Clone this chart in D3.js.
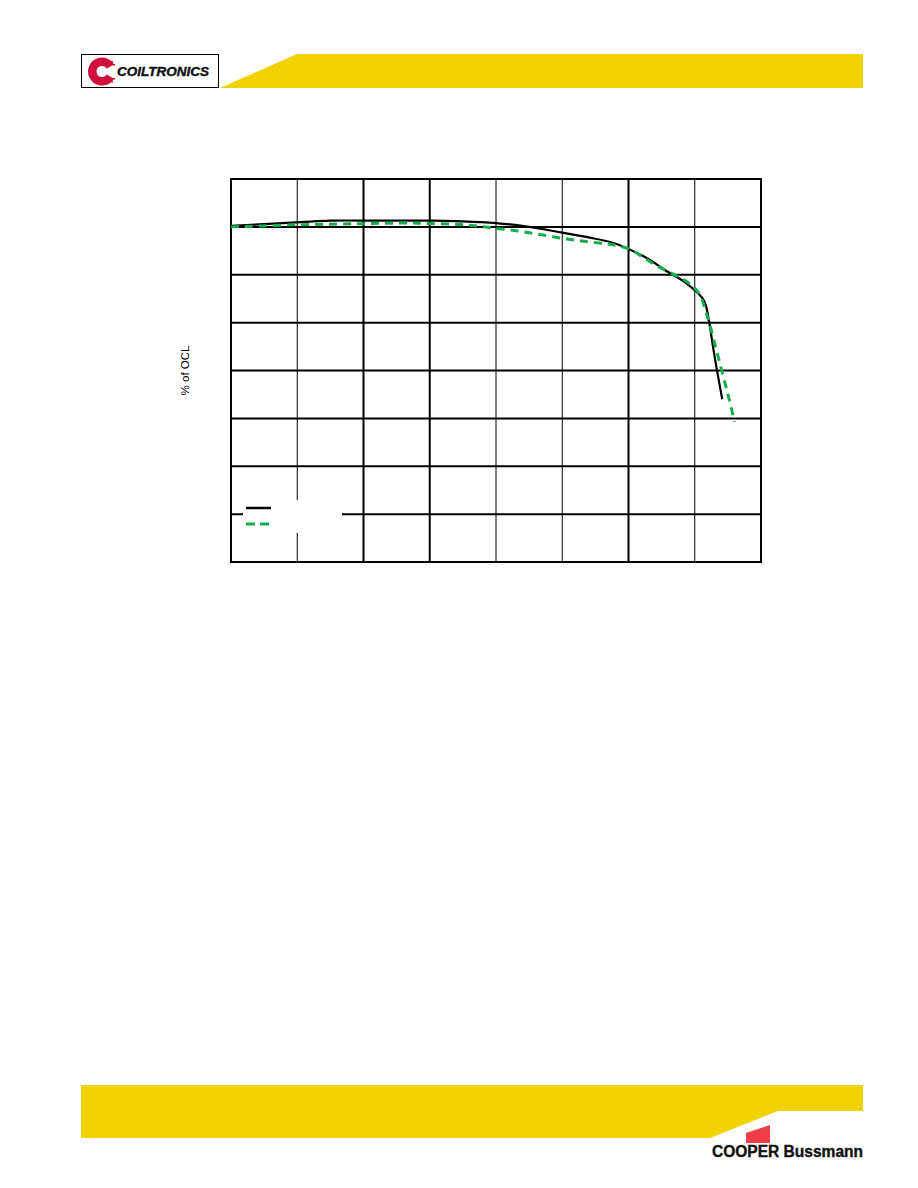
<!DOCTYPE html>
<html>
<head>
<meta charset="utf-8">
<script src="https://cdn.jsdelivr.net/npm/d3@7"></script>
<style>
html,body{margin:0;padding:0;background:#fff;}
svg{display:block;}
</style>
</head>
<body>
<svg id="c" width="918" height="1188"></svg>
<script>
// ---- data (x: % of rated current, y: % of OCL) ----
const xTicks = [0, 20, 40, 60, 80, 100, 120, 140, 160];
const yTicks = [30, 40, 50, 60, 70, 80, 90, 100, 110];
const thinXTicks = [20, 80, 100, 140];
const yLabel = "% of OCL";

const seriesA_x = [0, 21, 30, 45, 61, 75, 80, 89, 100, 108, 115, 120, 126, 131, 137.5, 142.3, 143.3, 144.4, 146, 148.3];
const seriesA_y = [100.2, 101.0, 101.3, 101.3, 101.3, 101.0, 100.8, 100.1, 98.8, 97.8, 96.75, 95.4, 93.3, 91.0, 88.2, 85.1, 83.7, 79.9, 72.9, 64.0];
const seriesB_x = [0, 21, 39, 53, 60, 71, 80, 89, 101.5, 109, 115, 120, 129, 137.5, 141.2, 143.8, 146, 148.1, 150.2, 152];
const seriesB_y = [100.0, 100.45, 100.66, 100.8, 100.7, 100.4, 99.7, 98.9, 97.45, 96.8, 96.3, 95.4, 91.7, 88.6, 86.15, 81.3, 75.7, 70.1, 64.5, 59.3];

const svg = d3.select("#c");

// ---- header ----
svg.append("polygon")
  .attr("points", "220,88 297,54 863,54 863,88")
  .attr("fill", "#f2d100");
svg.append("rect").attr("x", 81.5).attr("y", 54.5).attr("width", 137).attr("height", 33)
  .attr("fill", "#fff").attr("stroke", "#000").attr("stroke-width", 1);
// red C mark
const cg = svg.append("g");
cg.append("path")
  .attr("d", d3.arc()({innerRadius: 5.5, outerRadius: 14, startAngle: 0.55, endAngle: 2 * Math.PI - 0.55}))
  .attr("transform", "translate(102,71.5) rotate(90)")
  .attr("fill", "#d0103a");
[[106, 61, 7], [109, 64, 6], [109, 78, 6], [106, 81, 7]].forEach(d => {
  cg.append("rect").attr("x", d[0]).attr("y", d[1]).attr("width", d[2]).attr("height", 1.5).attr("fill", "#d0103a");
});
svg.append("text").attr("x", 117).attr("y", 76)
  .attr("font-family", "Liberation Sans, Arial, sans-serif").attr("font-weight", "bold").attr("font-style", "italic")
  .attr("font-size", 12.5).attr("textLength", 92).attr("lengthAdjust", "spacingAndGlyphs")
  .attr("fill", "#111").attr("stroke", "#111").attr("stroke-width", 0.4).text("COILTRONICS");

// ---- footer ----
svg.append("polygon")
  .attr("points", "81,1085 863,1085 863,1111 778,1111 710,1138 81,1138")
  .attr("fill", "#f2d100");
svg.append("polygon")
  .attr("points", "746,1133 770,1125 770,1143 746,1143")
  .attr("fill", "#ef3e4a");
const ft = svg.append("text").attr("x", 712).attr("y", 1157)
  .attr("font-family", "Liberation Sans, Arial, sans-serif").attr("font-size", 16)
  .attr("textLength", 151).attr("lengthAdjust", "spacingAndGlyphs").attr("fill", "#111")
  .attr("stroke", "#111").attr("stroke-width", 0.4);
ft.append("tspan").attr("font-weight", "bold").text("COOPER ");
ft.append("tspan").attr("font-weight", "bold").text("Bussmann");

// ---- chart ----
const x = d3.scaleLinear().domain([0, 160]).range([231, 761]);
const y = d3.scaleLinear().domain([30, 110]).range([562, 179]);

const grid = svg.append("g");
grid.selectAll("line.v").data(xTicks).join("line")
  .attr("x1", d => x(d)).attr("x2", d => x(d)).attr("y1", y(110) - 1).attr("y2", y(30) + 1)
  .attr("stroke", "#000").attr("stroke-width", d => thinXTicks.includes(d) ? 1 : 2);
grid.selectAll("line.h").data(yTicks).join("line")
  .attr("x1", x(0) - 1).attr("x2", x(160) + 1).attr("y1", d => y(d)).attr("y2", d => y(d))
  .attr("stroke", "#000").attr("stroke-width", 2);

// legend background
const lg = svg.append("g");
lg.append("rect").attr("x", 243).attr("y", 500).attr("width", 99).attr("height", 33).attr("fill", "#fff");
lg.append("line").attr("x1", 246).attr("x2", 271).attr("y1", 508).attr("y2", 508)
  .attr("stroke", "#000").attr("stroke-width", 2.5);
lg.append("line").attr("x1", 246).attr("x2", 270).attr("y1", 524).attr("y2", 524)
  .attr("stroke", "#14ad50").attr("stroke-width", 3).attr("stroke-dasharray", "9,5");

svg.append("path")
  .datum(seriesA_x.map((v, i) => [v, seriesA_y[i]]))
  .attr("d", d3.line().x(d => x(d[0])).y(d => y(d[1])).curve(d3.curveCatmullRom))
  .attr("fill", "none").attr("stroke", "#000").attr("stroke-width", 2.2);

svg.append("path")
  .datum(seriesB_x.map((v, i) => [v, seriesB_y[i]]))
  .attr("d", d3.line().x(d => x(d[0])).y(d => y(d[1])).curve(d3.curveCatmullRom))
  .attr("fill", "none").attr("stroke", "#14ad50").attr("stroke-width", 3).attr("stroke-dasharray", "8,6");

// y label
svg.append("text")
  .attr("transform", `translate(189,${(y(110) + y(30)) / 2}) rotate(-90)`)
  .attr("text-anchor", "middle")
  .attr("font-family", "Liberation Sans, Arial, sans-serif").attr("font-size", 11.5)
  .attr("fill", "#000").text(yLabel);
</script>
</body>
</html>
